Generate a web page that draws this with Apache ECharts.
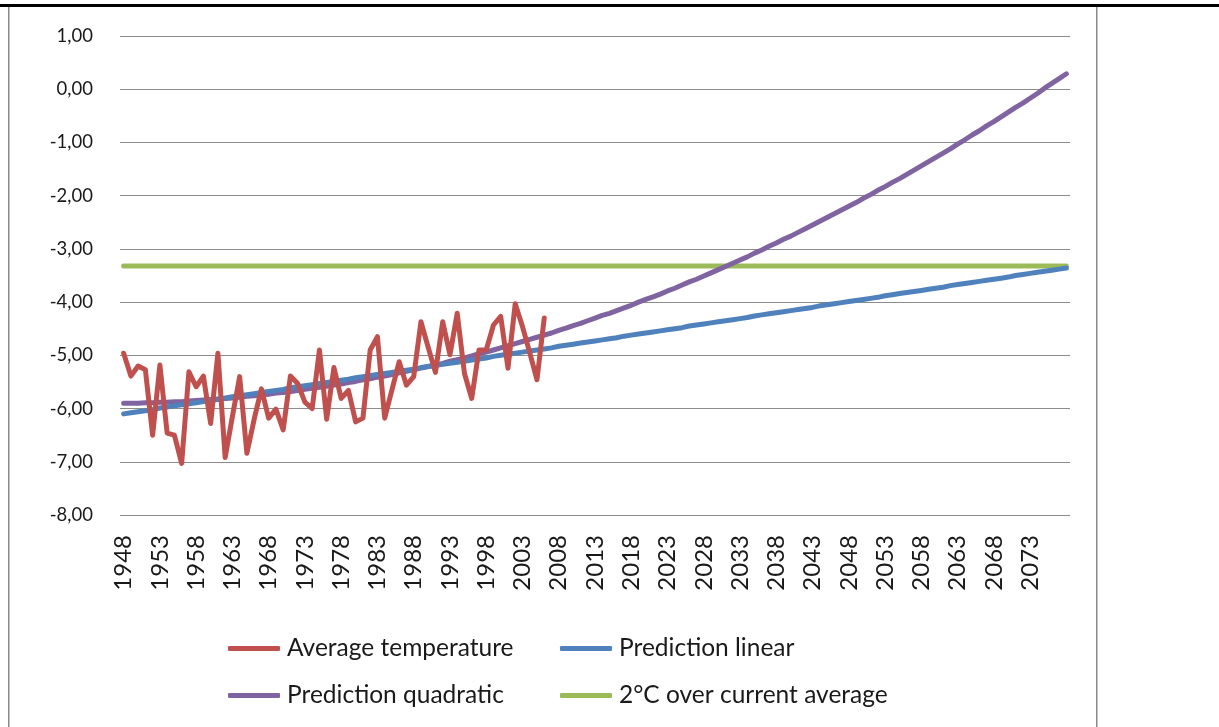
<!DOCTYPE html>
<html>
<head>
<meta charset="utf-8">
<script src="https://cdn.jsdelivr.net/npm/echarts@6/dist/echarts.min.js"></script>
<style>
html,body{margin:0;padding:0;background:#fff;}
#c{width:1219px;height:727px;}
</style>
</head>
<body>
<div id="c"></div>
<script>
// ---- data ----
const firstYear = 1948;
const lastYear = 2078;
const years = [];
for (let y = firstYear; y <= lastYear; y++) years.push(String(y));
const lastLabelledYear = "2073";

const averageTemperature = [
  -4.96, -5.39, -5.20, -5.27, -6.50, -5.18, -6.46, -6.50, -7.03, -5.31,
  -5.59, -5.39, -6.28, -4.96, -6.92, -6.15, -5.40, -6.84, -6.20, -5.63,
  -6.18, -6.01, -6.40, -5.39, -5.53, -5.88, -6.00, -4.90, -6.20, -5.23,
  -5.81, -5.66, -6.25, -6.18, -4.90, -4.65, -6.18, -5.65, -5.12, -5.56,
  -5.40, -4.37, -4.85, -5.32, -4.37, -4.99, -4.21, -5.34, -5.81, -4.90,
  -4.90, -4.43, -4.27, -5.24, -4.03, -4.46, -4.95, -5.46, -4.30
];

const predictionLinear = [
  -6.10, -6.08, -6.06, -6.04, -6.02, -5.99, -5.97, -5.95, -5.93, -5.91,
  -5.89, -5.87, -5.85, -5.83, -5.80, -5.78, -5.76, -5.74, -5.72, -5.70,
  -5.68, -5.66, -5.64, -5.61, -5.59, -5.57, -5.55, -5.53, -5.51, -5.49,
  -5.47, -5.45, -5.42, -5.40, -5.38, -5.36, -5.34, -5.32, -5.30, -5.28,
  -5.26, -5.23, -5.21, -5.19, -5.17, -5.15, -5.13, -5.11, -5.09, -5.07,
  -5.05, -5.02, -5.00, -4.98, -4.96, -4.94, -4.92, -4.90, -4.88, -4.86,
  -4.83, -4.81, -4.79, -4.77, -4.75, -4.73, -4.71, -4.69, -4.67, -4.64,
  -4.62, -4.60, -4.58, -4.56, -4.54, -4.52, -4.50, -4.48, -4.45, -4.43,
  -4.41, -4.39, -4.37, -4.35, -4.33, -4.31, -4.29, -4.26, -4.24, -4.22,
  -4.20, -4.18, -4.16, -4.14, -4.12, -4.10, -4.07, -4.05, -4.03, -4.01,
  -3.99, -3.97, -3.95, -3.93, -3.91, -3.88, -3.86, -3.84, -3.82, -3.80,
  -3.78, -3.76, -3.74, -3.72, -3.69, -3.67, -3.65, -3.63, -3.61, -3.59,
  -3.57, -3.55, -3.53, -3.50, -3.48, -3.46, -3.44, -3.42, -3.40, -3.38,
  -3.36
];

const predictionQuadratic = [
  -5.90, -5.90, -5.90, -5.89, -5.89, -5.88, -5.88, -5.87, -5.87, -5.86,
  -5.85, -5.84, -5.83, -5.82, -5.81, -5.80, -5.79, -5.77, -5.76, -5.74,
  -5.73, -5.71, -5.70, -5.68, -5.66, -5.64, -5.62, -5.60, -5.58, -5.56,
  -5.54, -5.51, -5.49, -5.46, -5.44, -5.41, -5.39, -5.36, -5.33, -5.30,
  -5.27, -5.24, -5.21, -5.18, -5.15, -5.11, -5.08, -5.05, -5.01, -4.97,
  -4.94, -4.90, -4.86, -4.82, -4.78, -4.74, -4.70, -4.66, -4.62, -4.58,
  -4.53, -4.49, -4.44, -4.40, -4.35, -4.30, -4.25, -4.21, -4.16, -4.11,
  -4.06, -4.00, -3.95, -3.90, -3.85, -3.79, -3.74, -3.68, -3.62, -3.57,
  -3.51, -3.45, -3.39, -3.33, -3.27, -3.21, -3.15, -3.08, -3.02, -2.95,
  -2.89, -2.82, -2.76, -2.69, -2.62, -2.55, -2.48, -2.41, -2.34, -2.27,
  -2.20, -2.13, -2.05, -1.98, -1.90, -1.83, -1.75, -1.68, -1.60, -1.52,
  -1.44, -1.36, -1.28, -1.20, -1.12, -1.03, -0.95, -0.86, -0.78, -0.69,
  -0.61, -0.52, -0.43, -0.34, -0.26, -0.17, -0.08, 0.02, 0.11, 0.20,
  0.29
];

const twoDegreesOverAverage = -3.32;
const yTickLabels = ["-8,00","-7,00","-6,00","-5,00","-4,00","-3,00","-2,00","-1,00","0,00","1,00"];
const yMin = -8, yMax = 1, yStep = 1;

const seriesNames = ["Average temperature", "Prediction linear", "Prediction quadratic", "2°C over current average"];
const seriesColors = ["#C0504D", "#4F81BD", "#8064A2", "#9BBB59"];

// ---- chart ----
const chart = echarts.init(document.getElementById('c'), null, {renderer: 'canvas'});
const FONT = 'Lato, "Liberation Sans", sans-serif';
const lastLabelIndex = years.indexOf(lastLabelledYear);

function lineSeries(name, color, data, z) {
  return {
    name: name, type: 'line', data: data, z: z,
    symbol: 'none', smooth: false,
    lineStyle: {color: color, width: 5, cap: 'round', join: 'round'},
    itemStyle: {color: color},
    animation: false
  };
}

const legendPos = [
  {left: 228, top: 636},
  {left: 560, top: 636},
  {left: 228, top: 683},
  {left: 560, top: 683}
];

chart.setOption({
  animation: false,
  backgroundColor: '#fff',
  grid: {left: 120, right: 149, top: 36, bottom: 212, containLabel: false},
  xAxis: {
    type: 'category',
    data: years,
    boundaryGap: true,
    axisLine: {show: false},
    axisTick: {show: false},
    splitLine: {show: false},
    axisLabel: {
      interval: function (index) { return index % 5 === 0 && index <= lastLabelIndex; },
      rotate: 90, margin: 20,
      fontFamily: FONT, fontSize: 24, color: '#1a1a1a'
    }
  },
  yAxis: {
    type: 'value',
    min: yMin, max: yMax, interval: yStep,
    axisLine: {show: false},
    axisTick: {show: false},
    splitLine: {show: true, lineStyle: {color: '#8c8c8c', width: 1}},
    axisLabel: {
      margin: 27, fontFamily: FONT, fontSize: 18.5, color: '#1a1a1a',
      formatter: function (v) {
        const idx = Math.round((v - yMin) / yStep);
        return yTickLabels[idx];
      }
    }
  },
  legend: seriesNames.map(function (n, i) {
    return {
      data: [n], left: legendPos[i].left, top: legendPos[i].top, padding: 0,
      icon: 'roundRect', itemWidth: 52, itemHeight: 5, itemGap: 6,
      textStyle: {fontFamily: FONT, fontSize: 24.5, color: '#1a1a1a', padding: [0, 0, 0, 2]},
      selectedMode: false
    };
  }),
  graphic: [
    {type: 'rect', shape: {x: 0, y: 4, width: 1219, height: 3}, style: {fill: '#000'}, silent: true},
    {type: 'rect', shape: {x: 8, y: 7, width: 1.5, height: 720}, style: {fill: '#8a8a8a'}, silent: true},
    {type: 'rect', shape: {x: 1096, y: 7, width: 1.5, height: 720}, style: {fill: '#8a8a8a'}, silent: true}
  ],
  series: [
    lineSeries(seriesNames[0], seriesColors[0], averageTemperature, 5),
    lineSeries(seriesNames[1], seriesColors[1], predictionLinear, 4),
    lineSeries(seriesNames[2], seriesColors[2], predictionQuadratic, 3),
    lineSeries(seriesNames[3], seriesColors[3], years.map(function () { return twoDegreesOverAverage; }), 2)
  ]
});
</script>
</body>
</html>
